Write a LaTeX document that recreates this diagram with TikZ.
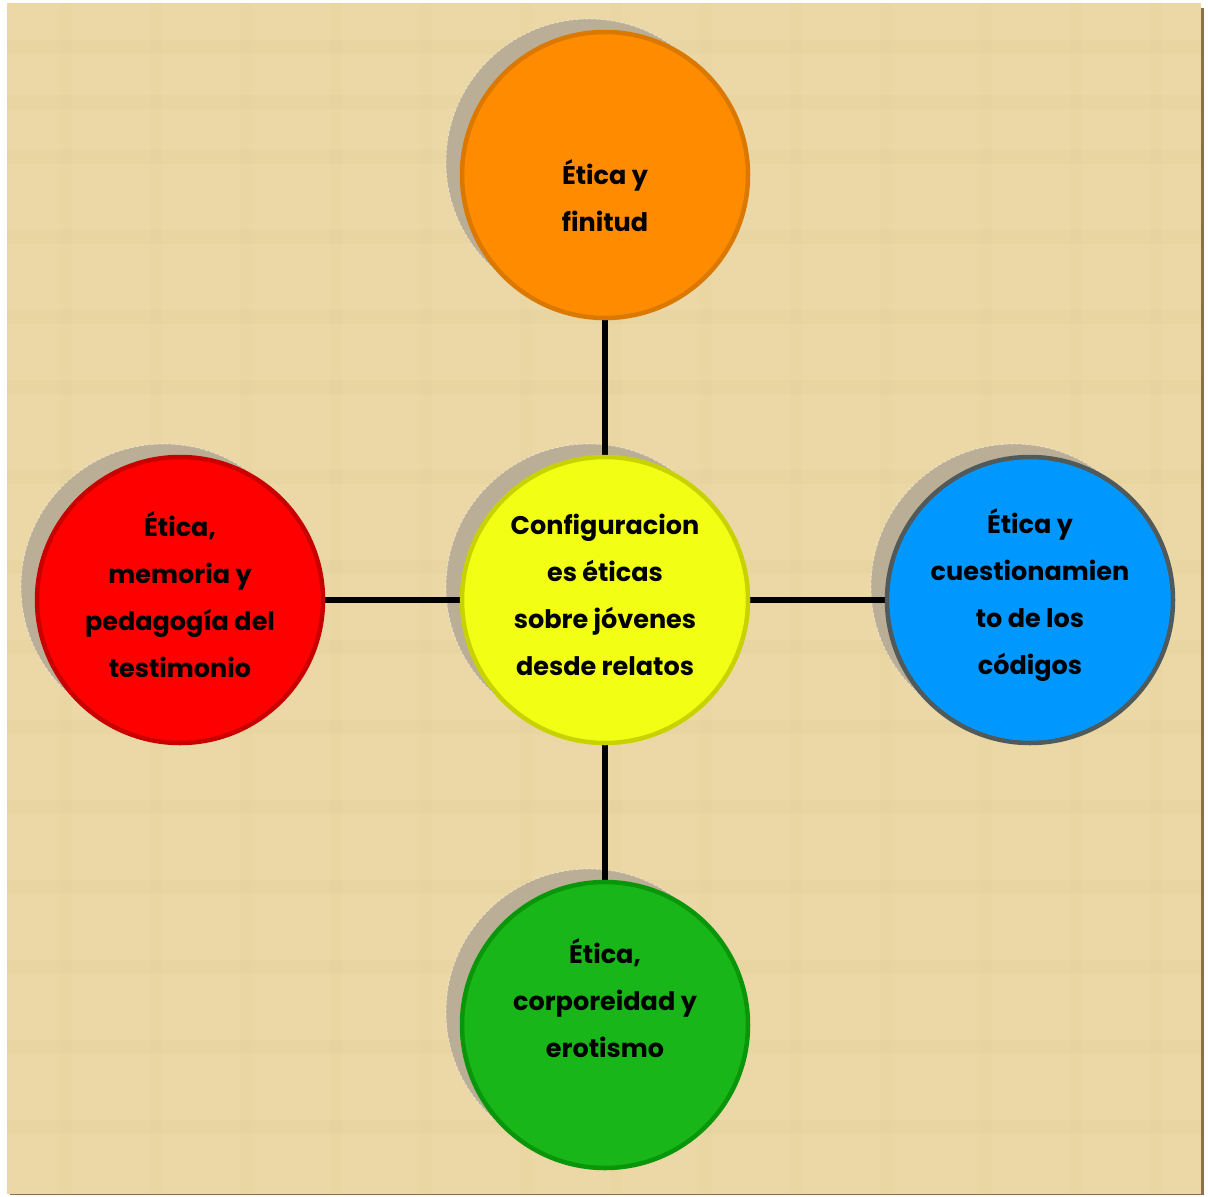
\documentclass[tikz,border=0pt]{standalone}
\usepackage{fontspec}
\setmainfont{Poppins}
\definecolor{paper}{RGB}{236,216,166}
\definecolor{paperdark}{RGB}{224,200,145}
\definecolor{edge}{RGB}{140,110,75}
\definecolor{shade}{RGB}{178,168,148}
\definecolor{orfill}{RGB}{255,140,0}
\definecolor{ordraw}{RGB}{218,120,0}
\definecolor{yefill}{RGB}{242,255,20}
\definecolor{yedraw}{RGB}{200,210,0}
\definecolor{refill}{RGB}{255,0,0}
\definecolor{redraw}{RGB}{200,0,0}
\definecolor{blfill}{RGB}{0,152,255}
\definecolor{bldraw}{RGB}{80,90,90}
\definecolor{grfill}{RGB}{25,182,25}
\definecolor{grdraw}{RGB}{10,150,10}
\tikzset{
  bubble/.style={circle, minimum size=286pt, inner sep=0pt, line width=4.5pt},
  bshadow/.style={circle, minimum size=286pt, inner sep=0pt, fill=shade, fill opacity=0.85,
     draw=white, draw opacity=0.6, densely dashed, line width=0.6pt},
  link/.style={line width=6pt, black},
  label/.style={font=\fontsize{25.5pt}{47pt}\selectfont\bfseries, align=center, text=black}
}
\begin{document}
\begin{tikzpicture}[x=1pt,y=-1pt]
\useasboundingbox (0,0) rectangle (1208,1197);
\fill[white] (0,0) rectangle (1208,1197);
% paper
\fill[edge] (10,8) rectangle (1204,1195);
\fill[paper] (7,3) rectangle (1201,1194);
\foreach \yy in {40,95,150,230,310,380,470,560,640,720,800,880,960,1040,1120} {
  \fill[paperdark, opacity=0.18] (7,\yy) rectangle (1201,\yy+14);
}
\foreach \xx in {60,150,240,330,420,520,610,700,790,880,980,1070,1150} {
  \fill[paperdark, opacity=0.12] (\xx,3) rectangle (\xx+12,1194);
}
% centres
\coordinate (pc) at (605,600);
\coordinate (pt) at (605,175);
\coordinate (pl) at (180,600);
\coordinate (pr) at (1030,600);
\coordinate (pb) at (605,1025);
% shadows
\foreach \p in {pc,pt,pl,pr,pb} {
  \node[bshadow] at ([shift={(-16,-13)}]\p) {};
}
% links
\draw[link] (pc) -- (pt);
\draw[link] (pc) -- (pl);
\draw[link] (pc) -- (pr);
\draw[link] (pc) -- (pb);
% circles
\node[bubble, fill=yefill, draw=yedraw] (center) at (pc) {};
\node[bubble, fill=orfill, draw=ordraw] (top) at (pt) {};
\node[bubble, fill=refill, draw=redraw] (left) at (pl) {};
\node[bubble, fill=blfill, draw=bldraw] (right) at (pr) {};
\node[bubble, fill=grfill, draw=grdraw] (bottom) at (pb) {};
% texts
\node[label] (tcenter) at (605,595) {Configuracion\\es éticas\\sobre jóvenes\\desde relatos};
\node[label] (ttop) at (605,196) {Ética y\\finitud};
\node[label] (tleft) at (180,595) {Ética,\\memoria y\\pedagogía del\\testimonio};
\node[label] (tright) at (1030,595) {Ética y\\cuestionamien\\to de los\\códigos};
\node[label] (tbottom) at (605,998) {Ética,\\corporeidad y\\erotismo};
\end{tikzpicture}
\end{document}
